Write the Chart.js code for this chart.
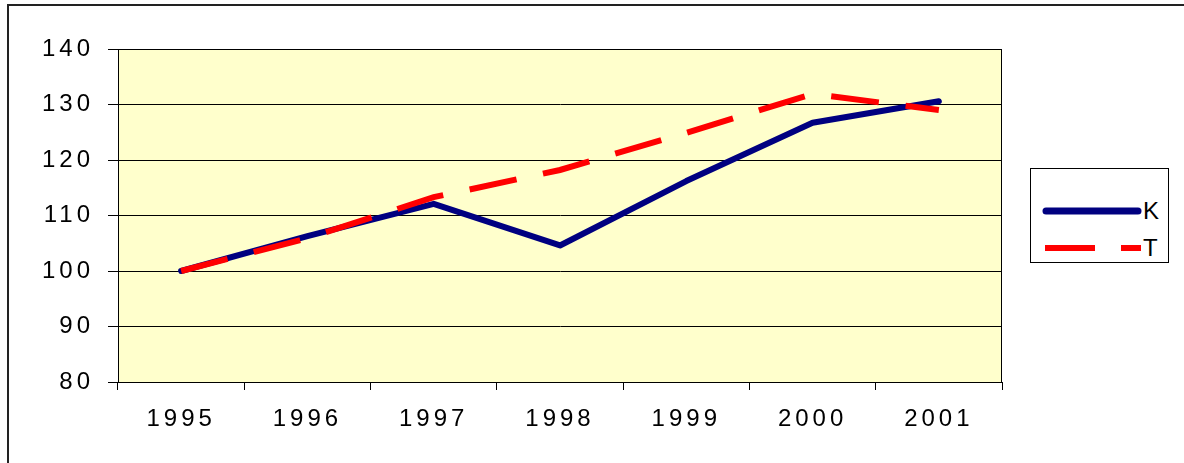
<!DOCTYPE html>
<html>
<head>
<meta charset="utf-8">
<script src="https://cdn.jsdelivr.net/npm/chart.js@4/dist/chart.umd.min.js"></script>
<style>
  html, body { margin: 0; padding: 0; background: #fff; }
  #wrap { position: relative; width: 1184px; height: 463px; overflow: hidden; }
  #frame { position: absolute; left: 7px; top: 4px; width: 1200px; height: 500px;
           border-left: 2px solid #222; border-top: 2px solid #222; pointer-events: none; }
  #legend { position: absolute; left: 1030px; top: 168px; width: 137px; height: 93px;
            border: 1px solid #000; background: #fff; font-family: "Liberation Sans", Arial, sans-serif;
            font-size: 24px; color: #000; }
  .row { position: absolute; left: 0; height: 28px; }
  .row span { position: absolute; left: 112px; top: 0; line-height: 28px; }
</style>
</head>
<body>
<div id="wrap">
  <canvas id="myChart" width="1184" height="463"></canvas>
  <div id="frame"></div>
  <div id="legend">
    <div class="row" style="top:28px">
      <svg width="106" height="28" style="position:absolute;left:10px;top:0">
        <line x1="5" y1="14" x2="97" y2="14" stroke="#000080" stroke-width="7" stroke-linecap="round"/>
      </svg>
      <span>K</span>
    </div>
    <div class="row" style="top:65px">
      <svg width="106" height="28" style="position:absolute;left:10px;top:0">
        <line x1="4" y1="14" x2="104" y2="14" stroke="#ff0000" stroke-width="6" stroke-dasharray="50,26,20"/>
      </svg>
      <span>T</span>
    </div>
  </div>
</div>
<script>
// values
let years = ["1995", "1996", "1997", "1998", "1999", "2000", "2001"];
let seriesK = [100, 106.3, 112.1, 104.6, 116.2, 126.7, 130.6];
let seriesT = [100, 105.9, 113.3, 118.2, 124.9, 131.9, 129.0];
let yTicks = [80, 90, 100, 110, 120, 130, 140];

// yellow plot background + black frame round it
const plotBox = {
    id: "plotBox",
    beforeDraw(chart) {
        const a = chart.chartArea, ctx = chart.ctx;
        ctx.letterSpacing = "4px"; // wide digits like the original
        ctx.save();
        ctx.fillStyle = "#ffffcc";
        ctx.fillRect(a.left, a.top, a.right - a.left, a.bottom - a.top);
        ctx.restore();
    },
    afterDatasetsDraw(chart) {
        const a = chart.chartArea, ctx = chart.ctx;
        ctx.save();
        ctx.strokeStyle = "#000";
        ctx.lineWidth = 1;
        ctx.strokeRect(a.left + 0.5, a.top + 0.5, a.right - a.left - 1, a.bottom - a.top);
        ctx.restore();
    }
};

var ctx = document.getElementById("myChart").getContext("2d");
var chart = new Chart(ctx, {
    type: "line",
    data: {
        labels: years,
        datasets: [
            {
                label: "K",
                data: seriesK,
                borderColor: "#000080",
                borderWidth: 6,
                pointRadius: 0,
                tension: 0,
                borderCapStyle: "round",
                borderJoinStyle: "round",
                order: 1,
            },
            {
                label: "T",
                data: seriesT,
                borderColor: "#ff0000",
                borderWidth: 6,
                borderDash: [48, 27],
                pointRadius: 0,
                tension: 0,
                order: 0,
            },
        ],
    },
    options: {
        responsive: false,
        animation: false,
        layout: { padding: { left: 0, top: 49, right: 182, bottom: 0 } },
        plugins: { legend: { display: false }, tooltip: { enabled: false } },
        scales: {
            x: {
                offset: true,
                grid: { offset: true, drawOnChartArea: false, drawTicks: true, tickLength: 8, color: "#000" },
                border: { color: "#000" },
                ticks: {
                    color: "#000",
                    padding: 15,
                    font: { family: "Liberation Sans", size: 24 },
                },
                afterFit: (s) => { s.height = 81; },
            },
            y: {
                min: 80,
                max: 140,
                afterBuildTicks: (s) => { s.ticks = yTicks.map((v) => ({ value: v })); },
                grid: { color: "#000", tickLength: 10, lineWidth: 1 },
                border: { color: "#000" },
                ticks: {
                    color: "#000",
                    padding: 14,
                    font: { family: "Liberation Sans", size: 24 },
                },
                afterFit: (s) => { s.width = 118; },
            },
        },
    },
    plugins: [plotBox],
});
</script>
</body>
</html>
